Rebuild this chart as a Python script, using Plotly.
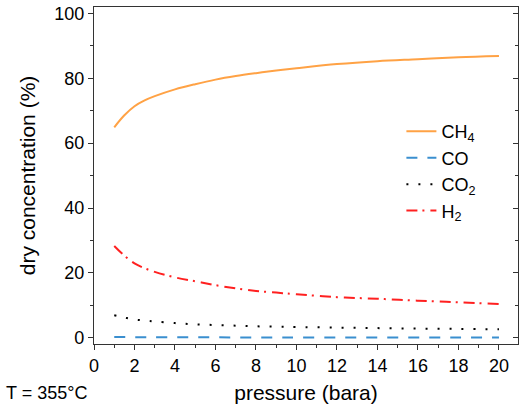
import plotly.graph_objects as go

pressure = [1, 1.5, 2, 2.5, 3, 4, 5, 6, 7, 8, 9, 10, 12, 14, 16, 18, 20]
ch4 = [64.9, 68.6, 71.4, 73.2, 74.5, 76.6, 78.2, 79.6, 80.7, 81.6, 82.4, 83.1, 84.4, 85.3, 85.9, 86.5, 86.9]
co = [0.2, 0.18, 0.16, 0.15, 0.14, 0.12, 0.11, 0.1, 0.09, 0.08, 0.08, 0.07, 0.06, 0.06, 0.05, 0.05, 0.05]
co2 = [6.9, 6.2, 5.6, 5.3, 5.0, 4.5, 4.1, 3.9, 3.7, 3.5, 3.4, 3.3, 3.1, 2.95, 2.8, 2.7, 2.6]
h2 = [28.3, 25.3, 22.9, 21.4, 20.3, 18.6, 17.4, 16.2, 15.2, 14.4, 13.9, 13.4, 12.5, 12.0, 11.4, 10.9, 10.4]

names = ["CH<sub>4</sub>", "CO", "CO<sub>2</sub>", "H<sub>2</sub>"]
series = [ch4, co, co2, h2]
colors = ["#FFA245", "#3A8FCF", "#000000", "#FF2020"]
dashes = ["solid", "11px,10px", "2px,10px", "11px,5px,2px,6px"]

FONT = "Arial, Liberation Sans, sans-serif"

fig = go.Figure()
for n, s, c, d in zip(names, series, colors, dashes):
    fig.add_trace(go.Scatter(x=pressure, y=s, name=n, mode="lines",
                             line=dict(color=c, width=2, dash=d, shape="spline", smoothing=1.0)))

# invisible trace for right axis with inward ticks
fig.add_trace(go.Scatter(x=[pressure[0]], y=[ch4[0]], yaxis="y2", showlegend=False,
                         mode="markers", marker=dict(opacity=0), hoverinfo="skip"))

axis_common = dict(showgrid=False, zeroline=False, showline=True, linecolor="#333333",
                   linewidth=1.3, tickcolor="#333333", tickfont=dict(family=FONT, size=18, color="#000"))

fig.update_layout(
    width=519, height=412,
    margin=dict(l=94, r=1, t=7, b=68),
    paper_bgcolor="white", plot_bgcolor="white",
    font=dict(family=FONT, color="#000"),
    xaxis=dict(range=[0, 20.94], tick0=0, dtick=2, ticks="outside", ticklen=5, tickwidth=1.3,
               mirror=True,
               minor=dict(dtick=1, ticks="outside", ticklen=3, tickcolor="#333333", tickwidth=1.3),
               title=dict(text="pressure (bara)", font=dict(family=FONT, size=21), standoff=10),
               **axis_common),
    yaxis=dict(range=[-1.95, 102.0], tick0=0, dtick=20, ticks="outside", ticklen=5, tickwidth=1.3,
               mirror=True,
               minor=dict(dtick=10, ticks="outside", ticklen=3, tickcolor="#333333", tickwidth=1.3),
               title=dict(text="dry concentration (%)", font=dict(family=FONT, size=21), standoff=12),
               **axis_common),
    yaxis2=dict(range=[-1.95, 102.0], overlaying="y", side="right", tick0=0, dtick=20,
                ticks="inside", ticklen=5, tickwidth=1.3, showticklabels=False,
                minor=dict(dtick=10, ticks="inside", ticklen=3, tickcolor="#333333", tickwidth=1.3),
                **axis_common),
    legend=dict(x=0.725, y=0.685, xanchor="left", yanchor="top", bgcolor="rgba(0,0,0,0)",
                font=dict(family=FONT, size=18), tracegroupgap=0),
    showlegend=True,
)

fig.add_annotation(text="T = 355°C", xref="paper", yref="paper", x=-0.212, y=-0.145,
                   xanchor="left", yanchor="middle", showarrow=False,
                   font=dict(family=FONT, size=18, color="#000"))

fig.write_html("out.html", config={"displayModeBar": False},
               post_script="document.body.style.margin='0';")
